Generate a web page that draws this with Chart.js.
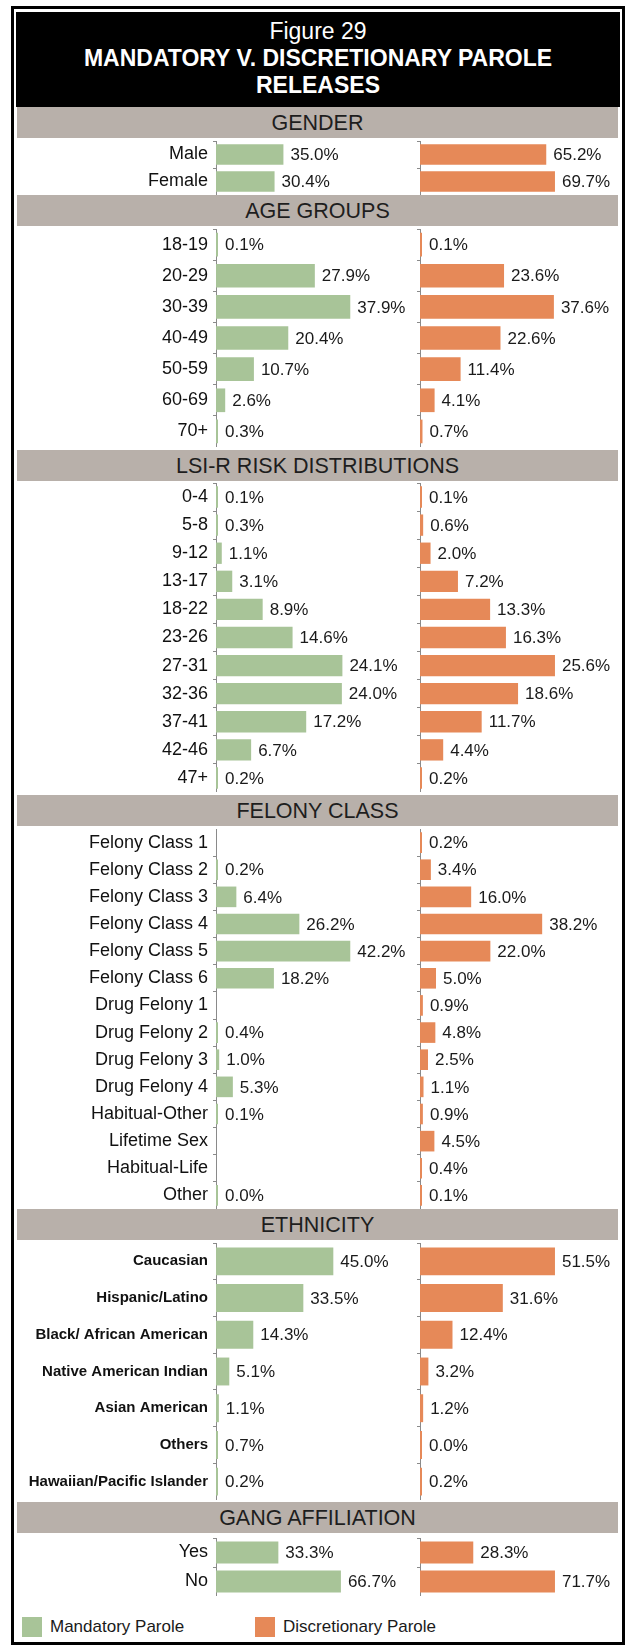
<!DOCTYPE html>
<html>
<head>
<meta charset="utf-8">
<title>Figure 29</title>
<script src="https://cdn.jsdelivr.net/npm/chart.js@4.4.1/dist/chart.umd.min.js"></script>
<style>
    html, body { margin: 0; padding: 0; background: #fff; }
    body {
        width: 628px; height: 1647px; position: relative; overflow: hidden;
        font-family: "Liberation Sans", Arial, sans-serif;
    }
    .frame {
        position: absolute; left: 11px; top: 6px;
        width: 608px; height: 1633px; border: 3px solid #000;
    }
    .title {
        position: absolute; left: 16px; top: 12px; width: 604px; height: 95px;
        background: #000; color: #fff; text-align: center;
        box-sizing: border-box; padding-top: 6px; line-height: 27px; font-size: 23px;
    }
    .title b { display: block; }
    .hdr {
        position: absolute; left: 17px; width: 601px; height: 31px;
        background: #b8b0aa; color: #1e1e1e; text-align: center;
        font-size: 21.5px; line-height: 32px;
    }
    canvas { position: absolute; }
    .legend { position: absolute; top: 1617px; font-size: 17px; color: #1a1a1a; line-height: 20px; }
    .legend i { display: inline-block; width: 20px; height: 20px; vertical-align: top; margin-right: 8px; }
</style>
</head>
<body>
<div class="frame"></div>
<div class="title">Figure 29<b>MANDATORY V. DISCRETIONARY PAROLE</b><b>RELEASES</b></div>
<div id="sections"></div>
<div class="legend" style="left:22px"><i style="background:#a8c498"></i>Mandatory Parole</div>
<div class="legend" style="left:255px"><i style="background:#e68958"></i>Discretionary Parole</div>

<script>
// 数据（百分比），null 表示原图中没有数值
const genderLabels = ['Male', 'Female'];
const genderMandatory = [35.0, 30.4];
const genderDiscretionary = [65.2, 69.7];

const ageLabels = ['18-19', '20-29', '30-39', '40-49', '50-59', '60-69', '70+'];
const ageMandatory = [0.1, 27.9, 37.9, 20.4, 10.7, 2.6, 0.3];
const ageDiscretionary = [0.1, 23.6, 37.6, 22.6, 11.4, 4.1, 0.7];

const lsiLabels = ['0-4', '5-8', '9-12', '13-17', '18-22', '23-26', '27-31', '32-36', '37-41', '42-46', '47+'];
const lsiMandatory = [0.1, 0.3, 1.1, 3.1, 8.9, 14.6, 24.1, 24.0, 17.2, 6.7, 0.2];
const lsiDiscretionary = [0.1, 0.6, 2.0, 7.2, 13.3, 16.3, 25.6, 18.6, 11.7, 4.4, 0.2];

const felonyLabels = ['Felony Class 1', 'Felony Class 2', 'Felony Class 3', 'Felony Class 4', 'Felony Class 5',
    'Felony Class 6', 'Drug Felony 1', 'Drug Felony 2', 'Drug Felony 3', 'Drug Felony 4', 'Habitual-Other',
    'Lifetime Sex', 'Habitual-Life', 'Other'];
const felonyMandatory = [null, 0.2, 6.4, 26.2, 42.2, 18.2, null, 0.4, 1.0, 5.3, 0.1, null, null, 0.0];
const felonyDiscretionary = [0.2, 3.4, 16.0, 38.2, 22.0, 5.0, 0.9, 4.8, 2.5, 1.1, 0.9, 4.5, 0.4, 0.1];

const ethnicityLabels = ['Caucasian', 'Hispanic/Latino', 'Black/ African American', 'Native American Indian',
    'Asian American', 'Others', 'Hawaiian/Pacific Islander'];
const ethnicityMandatory = [45.0, 33.5, 14.3, 5.1, 1.1, 0.7, 0.2];
const ethnicityDiscretionary = [51.5, 31.6, 12.4, 3.2, 1.2, 0.0, 0.2];

const gangLabels = ['Yes', 'No'];
const gangMandatory = [33.3, 66.7];
const gangDiscretionary = [28.3, 71.7];

const sectionTitles = ['GENDER', 'AGE GROUPS', 'LSI-R RISK DISTRIBUTIONS', 'FELONY CLASS', 'ETHNICITY', 'GANG AFFILIATION'];

// 版面位置（像素）
const GREEN = '#a8c498';
const ORANGE = '#e68958';
const AXIS_HEADROOM = 1.43;
const layout = [
    { hdr: 107, top: 141, height: 54 },
    { hdr: 195, top: 229, height: 218 },
    { hdr: 450, top: 483, height: 309 },
    { hdr: 795, top: 829, height: 380 },
    { hdr: 1209, top: 1243, height: 257 },
    { hdr: 1502, top: 1538, height: 58 }
];

const sections = [
    [genderLabels, genderMandatory, genderDiscretionary],
    [ageLabels, ageMandatory, ageDiscretionary],
    [lsiLabels, lsiMandatory, lsiDiscretionary],
    [felonyLabels, felonyMandatory, felonyDiscretionary],
    [ethnicityLabels, ethnicityMandatory, ethnicityDiscretionary],
    [gangLabels, gangMandatory, gangDiscretionary]
];

// 柱子右侧的百分比标签
const valueLabelPlugin = {
    id: 'valueLabels',
    afterDatasetsDraw(chart) {
        const ctx = chart.ctx;
        const values = chart.data.datasets[0].data;
        ctx.save();
        ctx.font = '17px "Liberation Sans", Arial, sans-serif';
        ctx.fillStyle = '#1a1a1a';
        ctx.textBaseline = 'middle';
        chart.getDatasetMeta(0).data.forEach((bar, i) => {
            if (values[i] === null) return;
            ctx.fillText(values[i].toFixed(1) + '%', bar.x + 7, bar.y + 1);
        });
        ctx.restore();
    }
};

function makeChart(left, width, top, height, labels, values, color, xMax, axisWidth, labelFont) {
    const canvas = document.createElement('canvas');
    canvas.width = width;
    canvas.height = height;
    canvas.style.left = left + 'px';
    canvas.style.top = top + 'px';
    document.getElementById('sections').appendChild(canvas);

    return new Chart(canvas.getContext('2d'), {
        type: 'bar',
        data: {
            labels: labels,
            datasets: [{
                data: values,
                backgroundColor: color,
                borderWidth: 0,
                minBarLength: 2,
                categoryPercentage: 0.76,
                barPercentage: 1
            }]
        },
        options: {
            indexAxis: 'y',
            responsive: false,
            animation: false,
            layout: { padding: 0 },
            plugins: { legend: { display: false }, tooltip: { enabled: false } },
            scales: {
                x: { display: false, min: 0, max: xMax },
                y: {
                    afterFit: (scale) => {
                        scale.width = axisWidth;
                        scale.paddingTop = 0;
                        scale.paddingBottom = 0;
                    },
                    border: { display: true, color: '#8a8a8a', dash: [2, 2] },
                    grid: { drawOnChartArea: false, drawTicks: true, tickLength: 3, color: '#8a8a8a' },
                    ticks: {
                        display: !!labelFont,
                        autoSkip: false,
                        padding: 5,
                        color: '#111',
                        font: labelFont || { size: 12 }
                    }
                }
            }
        },
        plugins: [valueLabelPlugin]
    });
}

const host = document.getElementById('sections');
sections.forEach(([labels, mandatory, discretionary], idx) => {
    const pos = layout[idx];
    const hdr = document.createElement('div');
    hdr.className = 'hdr';
    hdr.style.top = pos.hdr + 'px';
    hdr.textContent = sectionTitles[idx];
    host.appendChild(hdr);

    const maxVal = Math.max(...mandatory.filter(v => v !== null), ...discretionary);
    const xMax = maxVal * AXIS_HEADROOM;
    const labelFont = idx === 4
        ? { family: '"Liberation Sans", Arial, sans-serif', size: 15, weight: 'bold' }
        : { family: '"Liberation Sans", Arial, sans-serif', size: 18 };

    makeChart(17, 391, pos.top, pos.height, labels, mandatory, GREEN, xMax, 199, labelFont);
    makeChart(412, 201, pos.top, pos.height, labels, discretionary, ORANGE, xMax, 8, null);
});
</script>
</body>
</html>
